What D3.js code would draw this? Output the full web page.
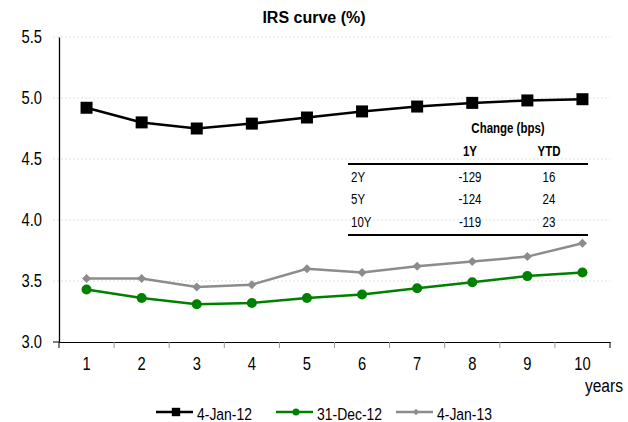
<!DOCTYPE html>
<html>
<head>
<meta charset="utf-8">
<script src="https://cdn.jsdelivr.net/npm/d3@7"></script>
<style>
  body { margin: 0; background: #fff; }
  svg { font-family: "Liberation Sans", Arial, sans-serif; }
</style>
</head>
<body>
<svg id="chart" width="628" height="422"></svg>
<script>
// tenors on the x axis
const years = [1, 2, 3, 4, 5, 6, 7, 8, 9, 10];
// IRS curves (%)
const jan12 = [4.92, 4.80, 4.75, 4.79, 4.84, 4.89, 4.93, 4.96, 4.98, 4.99];
const dec12 = [3.43, 3.36, 3.31, 3.32, 3.36, 3.39, 3.44, 3.49, 3.54, 3.57];
const jan13 = [3.52, 3.52, 3.45, 3.47, 3.60, 3.57, 3.62, 3.66, 3.70, 3.81];
const yTicks = [3.0, 3.5, 4.0, 4.5, 5.0, 5.5];

// change table
const tableRows = ["2Y", "5Y", "10Y"];
const change1Y = [-129, -124, -119];
const changeYTD = [16, 24, 23];

const series = [
  { name: "4-Jan-12", values: jan12, color: "#000000", marker: "square" },
  { name: "31-Dec-12", values: dec12, color: "#008000", marker: "circle" },
  { name: "4-Jan-13", values: jan13, color: "#8c8c8c", marker: "diamond" }
];

// the original uses a narrow font; fake it by squeezing Liberation Sans
const SQ = 0.82;
function ntext(parent, px, py, str, size, anchor, bold) {
  return parent.append("text")
    .attr("transform", `translate(${px},${py}) scale(${SQ},1)`)
    .attr("text-anchor", anchor || "start")
    .attr("font-size", size)
    .attr("font-weight", bold ? "bold" : null)
    .text(str);
}

const svg = d3.select("#chart");
const margin = { top: 37, left: 59, right: 18, bottom: 80 };
const width = 628 - margin.left - margin.right,
      height = 422 - margin.top - margin.bottom;

const g = svg.append("g").attr("transform", `translate(${margin.left},${margin.top})`);

const x = d3.scaleBand().domain(years).range([0, width]);
const y = d3.scaleLinear().domain([3.0, 5.5]).range([height, 0]);

// gridlines (they poke a little past the axis on the left)
g.selectAll(".grid").data(yTicks.slice(1)).enter().append("line")
  .attr("x1", -6).attr("x2", width)
  .attr("y1", d => y(d)).attr("y2", d => y(d))
  .attr("stroke", "#d9d9d9").attr("stroke-width", 0.8)
  .attr("stroke-dasharray", "2,2");

// y axis
const yAxis = g.append("g")
  .call(d3.axisLeft(y).tickValues(yTicks).tickFormat(d3.format(".1f")).tickSize(0));
yAxis.select(".domain").attr("stroke", "#000").attr("stroke-width", 1.3);
yAxis.selectAll(".tick text")
  .attr("x", -17 / SQ).attr("transform", `scale(${SQ},1)`)
  .attr("font-size", 18).attr("fill", "#000");
g.append("line").attr("x1", -6).attr("x2", 0).attr("y1", height).attr("y2", height)
  .attr("stroke", "#000");

// x axis: ticks on band boundaries
const xAxis = g.append("g").attr("transform", `translate(0,${height})`)
  .call(d3.axisBottom(x).tickSize(0).tickPadding(15));
xAxis.select(".domain").attr("stroke", "#000").attr("stroke-width", 1);
xAxis.selectAll(".tick text").attr("transform", `scale(${SQ},1)`)
  .attr("font-size", 18).attr("fill", "#000");
const bounds = years.map(d => x(d)).concat([width]);
g.selectAll(".xtick").data(bounds).enter().append("line")
  .attr("x1", d => d).attr("x2", d => d)
  .attr("y1", height).attr("y2", height + 6)
  .attr("stroke", (d, i) => (i === 0 || i === bounds.length - 1) ? "#000" : "#999");

ntext(g, width + 13, height + 50, "years", 19, "end");

// lines and markers
const line = d3.line().x((d, i) => x(years[i]) + x.bandwidth() / 2).y(d => y(d));

function drawMarker(sel, s, px, py, scale) {
  if (s.marker === "square") {
    const r = 6 * scale;
    sel.append("rect").attr("x", px - r).attr("y", py - r)
      .attr("width", 2 * r).attr("height", 2 * r).attr("fill", s.color);
  } else if (s.marker === "circle") {
    sel.append("circle").attr("cx", px).attr("cy", py).attr("r", 5 * scale).attr("fill", s.color);
  } else {
    const r = 4.5 * scale;
    sel.append("path")
      .attr("d", `M${px},${py - r}L${px + r},${py}L${px},${py + r}L${px - r},${py}Z`)
      .attr("fill", s.color);
  }
}

series.forEach(s => {
  g.append("path").datum(s.values)
    .attr("fill", "none").attr("stroke", s.color).attr("stroke-width", 2.5)
    .attr("d", line);
  s.values.forEach((v, i) => drawMarker(g, s, x(years[i]) + x.bandwidth() / 2, y(v), 1));
});

// title
svg.append("text").attr("x", 314).attr("y", 23).attr("text-anchor", "middle")
  .attr("font-size", 16).attr("font-weight", "bold").text("IRS curve (%)");

// change table
const tbl = svg.append("g");
const colLabel = 351, col1 = 470, col2 = 549, tblLeft = 348, tblRight = 588;
ntext(tbl, 508, 133, "Change (bps)", 14, "middle", true);
ntext(tbl, col1, 156, "1Y", 14, "middle", true);
ntext(tbl, col2, 156, "YTD", 14, "middle", true);
tbl.append("line").attr("x1", tblLeft).attr("x2", tblRight).attr("y1", 164).attr("y2", 164)
  .attr("stroke", "#000").attr("stroke-width", 2.2);
tableRows.forEach((r, i) => {
  const ty = 181.5 + i * 22.5;
  ntext(tbl, colLabel, ty, r, 14);
  ntext(tbl, col1, ty, change1Y[i], 14, "middle");
  ntext(tbl, col2, ty, changeYTD[i], 14, "middle");
});
tbl.append("line").attr("x1", tblLeft).attr("x2", tblRight).attr("y1", 235).attr("y2", 235)
  .attr("stroke", "#000").attr("stroke-width", 2.2);

// legend
const legendX = [156, 276, 396];
const legend = svg.append("g");
series.forEach((s, i) => {
  const lx = legendX[i], ly = 412;
  legend.append("line").attr("x1", lx).attr("x2", lx + 37).attr("y1", ly).attr("y2", ly)
    .attr("stroke", s.color).attr("stroke-width", 2.5);
  drawMarker(legend, s, lx + 20, ly, 0.7);
  ntext(legend, lx + 41, ly + 8, s.name, 17);
});
</script>
</body>
</html>
